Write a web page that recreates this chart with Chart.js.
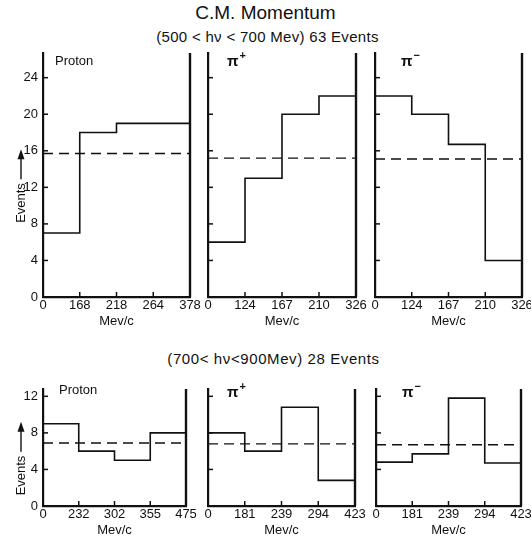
<!DOCTYPE html>
<html>
<head>
<meta charset="utf-8">
<script src="https://cdn.jsdelivr.net/npm/chart.js@4.4.1/dist/chart.umd.min.js"></script>
<style>
  body { margin: 0; background: #fff; width: 531px; height: 537px; position: relative; overflow: hidden;
         font-family: "Liberation Sans", Arial, sans-serif; color: #111; }
  .head { position: absolute; left: 0; width: 531px; text-align: center; white-space: nowrap; }
  canvas { position: absolute; }
</style>
</head>
<body>
<div class="head" style="top:2px;font-size:19px;">C.M. Momentum</div>
<div class="head" style="top:28px;font-size:15px;left:2px;letter-spacing:0.3px;">(500 &lt; hν &lt; 700 Mev) 63 Events</div>
<div class="head" style="top:350px;font-size:15px;left:8px;letter-spacing:0.6px;">(700&lt; hν&lt;900Mev) 28 Events</div>

<canvas id="c1"></canvas>
<canvas id="c2"></canvas>
<canvas id="c3"></canvas>
<canvas id="c4"></canvas>
<canvas id="c5"></canvas>
<canvas id="c6"></canvas>

<script>
// 500 < hv < 700 Mev
const protonLowEdges = ["0", "168", "218", "264", "378"];
const protonLowCounts = [7, 18, 19, 19];
const protonLowAverage = 15.7;

const piPlusLowEdges = ["0", "124", "167", "210", "326"];
const piPlusLowCounts = [6, 13, 20, 22];
const piPlusLowAverage = 15.2;

const piMinusLowEdges = ["0", "124", "167", "210", "326"];
const piMinusLowCounts = [22, 20, 16.7, 4];
const piMinusLowAverage = 15.1;

const lowTicks = [0, 4, 8, 12, 16, 20, 24];
const lowMax = 26.7;

// 700 < hv < 900 Mev
const protonHighEdges = ["0", "232", "302", "355", "475"];
const protonHighCounts = [9, 6, 5, 8];
const protonHighAverage = 6.9;

const piPlusHighEdges = ["0", "181", "239", "294", "423"];
const piPlusHighCounts = [8, 6, 10.8, 2.8];
const piPlusHighAverage = 6.8;

const piMinusHighEdges = ["0", "181", "239", "294", "423"];
const piMinusHighCounts = [4.8, 5.7, 11.8, 4.7];
const piMinusHighAverage = 6.7;

const highTicks = [0, 4, 8, 12];
const highMax = 12.8;

const INK = "#111";
const FONT = "'Liberation Sans', Arial, sans-serif";

// draws inward tick marks, the right frame line, the panel label and the "Events" arrow label
const panelDecor = {
  id: "panelDecor",
  afterDatasetsDraw(chart, args, opts) {
    const { ctx, chartArea: a, scales: { x, y } } = chart;
    ctx.save();
    ctx.strokeStyle = INK;
    ctx.fillStyle = INK;

    const line = (x1, y1, x2, y2) => {
      ctx.beginPath();
      ctx.moveTo(x1, y1);
      ctx.lineTo(x2, y2);
      ctx.stroke();
    };

    ctx.lineWidth = 1.5;
    y.ticks.forEach(t => {
      if (t.value === 0) return;
      const py = y.getPixelForValue(t.value);
      line(a.left, py, a.left + 5, py);
    });
    x.ticks.forEach(t => {
      if (t.value === 0 || t.value === 4) return;
      const px = x.getPixelForValue(t.value);
      line(px, a.bottom, px, a.bottom - 5);
    });

    ctx.lineWidth = 2.4;
    line(a.right, a.top, a.right, a.bottom);

    // panel label
    ctx.textBaseline = "middle";
    ctx.textAlign = "left";
    const lx = a.left + opts.dx, ly = a.top + opts.dy;
    if (opts.sign) {
      ctx.font = "bold 15px " + FONT;
      ctx.fillText(opts.label, lx, ly + 1);
      const pw = ctx.measureText(opts.label).width;
      ctx.font = "bold 11px " + FONT;
      ctx.fillText(opts.sign, lx + pw + 1, ly - 5);
    } else {
      ctx.font = "13px " + FONT;
      ctx.fillText(opts.label, lx, ly);
    }

    if (opts.events) {
      ctx.font = "13px " + FONT;
      const w = ctx.measureText("Events").width;
      const total = w + 4 + 30;
      const mid = (a.top + a.bottom) / 2 + 11;
      ctx.translate(a.left - 22, mid + total / 2);
      ctx.rotate(-Math.PI / 2);
      ctx.fillText("Events", 0, 0);
      ctx.lineWidth = 1.4;
      line(w + 4, 0, w + 26, 0);
      ctx.beginPath();
      ctx.moveTo(w + 34, 0);
      ctx.lineTo(w + 24, -3.5);
      ctx.lineTo(w + 24, 3.5);
      ctx.closePath();
      ctx.fill();
    }
    ctx.restore();
  }
};

function makePanel(id, area, edges, counts, average, yTicks, yMax, label, labelPos, showY) {
  const yw = showY ? area.left : 18;
  const canvas = document.getElementById(id);
  const w = area.right - area.left + yw + 16;
  const h = area.bottom - area.top + 10 + 40;
  canvas.width = w;
  canvas.height = h;
  canvas.style.left = (area.left - yw) + "px";
  canvas.style.top = (area.top - 10) + "px";
  canvas.style.width = w + "px";
  canvas.style.height = h + "px";

  const steps = counts.map((c, i) => ({ x: i, y: c }));
  steps.push({ x: counts.length, y: counts[counts.length - 1] });

  new Chart(canvas, {
    type: "line",
    data: {
      datasets: [
        {
          data: steps,
          stepped: true,
          borderColor: INK,
          borderWidth: 1.6,
          pointRadius: 0,
          fill: false
        },
        {
          data: [{ x: 0, y: average }, { x: counts.length, y: average }],
          borderColor: INK,
          borderWidth: 1.4,
          borderDash: [10, 6],
          pointRadius: 0,
          fill: false
        }
      ]
    },
    options: {
      responsive: false,
      animation: false,
      devicePixelRatio: 1,
      layout: { padding: { top: 10, right: 16, left: 0, bottom: 0 } },
      plugins: {
        legend: { display: false },
        tooltip: { enabled: false },
        panelDecor: { label: label[0], sign: label[1], dx: labelPos[0], dy: labelPos[1], events: showY }
      },
      scales: {
        x: {
          type: "linear",
          min: 0,
          max: counts.length,
          grid: { display: false, drawTicks: false },
          border: { display: true, color: INK, width: 2.2 },
          afterBuildTicks: s => { s.ticks = edges.map((e, i) => ({ value: i })); },
          afterFit: s => { s.height = 40; s.paddingLeft = 0; s.paddingRight = 0; },
          ticks: {
            autoSkip: false,
            maxRotation: 0,
            padding: 1,
            color: INK,
            font: { size: 13, family: FONT },
            callback: (v, i) => edges[i]
          },
          title: {
            display: true,
            text: "Mev/c",
            color: INK,
            padding: { top: 0, bottom: 8 },
            font: { size: 13, family: FONT }
          }
        },
        y: {
          type: "linear",
          min: 0,
          max: yMax,
          grid: { display: false, drawTicks: false },
          border: { display: true, color: INK, width: 2.2 },
          afterBuildTicks: s => { s.ticks = yTicks.map(v => ({ value: v })); },
          afterFit: s => { s.width = yw; s.paddingTop = 0; s.paddingBottom = 0; },
          ticks: {
            display: showY,
            padding: 5,
            color: INK,
            font: { size: 13, family: FONT }
          }
        }
      }
    },
    plugins: [panelDecor]
  });
}

const topRow = { top: 53, bottom: 297 };
const bottomRow = { top: 389, bottom: 506 };

makePanel("c1", { ...topRow, left: 43, right: 190 }, protonLowEdges, protonLowCounts, protonLowAverage,
  lowTicks, lowMax, ["Proton", ""], [12, 8], true);
makePanel("c2", { ...topRow, left: 208, right: 356 }, piPlusLowEdges, piPlusLowCounts, piPlusLowAverage,
  lowTicks, lowMax, ["π", "+"], [19, 8], false);
makePanel("c3", { ...topRow, left: 375, right: 522 }, piMinusLowEdges, piMinusLowCounts, piMinusLowAverage,
  lowTicks, lowMax, ["π", "−"], [26, 8], false);

makePanel("c4", { ...bottomRow, left: 43, right: 186 }, protonHighEdges, protonHighCounts, protonHighAverage,
  highTicks, highMax, ["Proton", ""], [16, 1], true);
makePanel("c5", { ...bottomRow, left: 208, right: 355 }, piPlusHighEdges, piPlusHighCounts, piPlusHighAverage,
  highTicks, highMax, ["π", "+"], [19, 3], false);
makePanel("c6", { ...bottomRow, left: 376, right: 521 }, piMinusHighEdges, piMinusHighCounts, piMinusHighAverage,
  highTicks, highMax, ["π", "−"], [26, 3], false);
</script>
</body>
</html>
